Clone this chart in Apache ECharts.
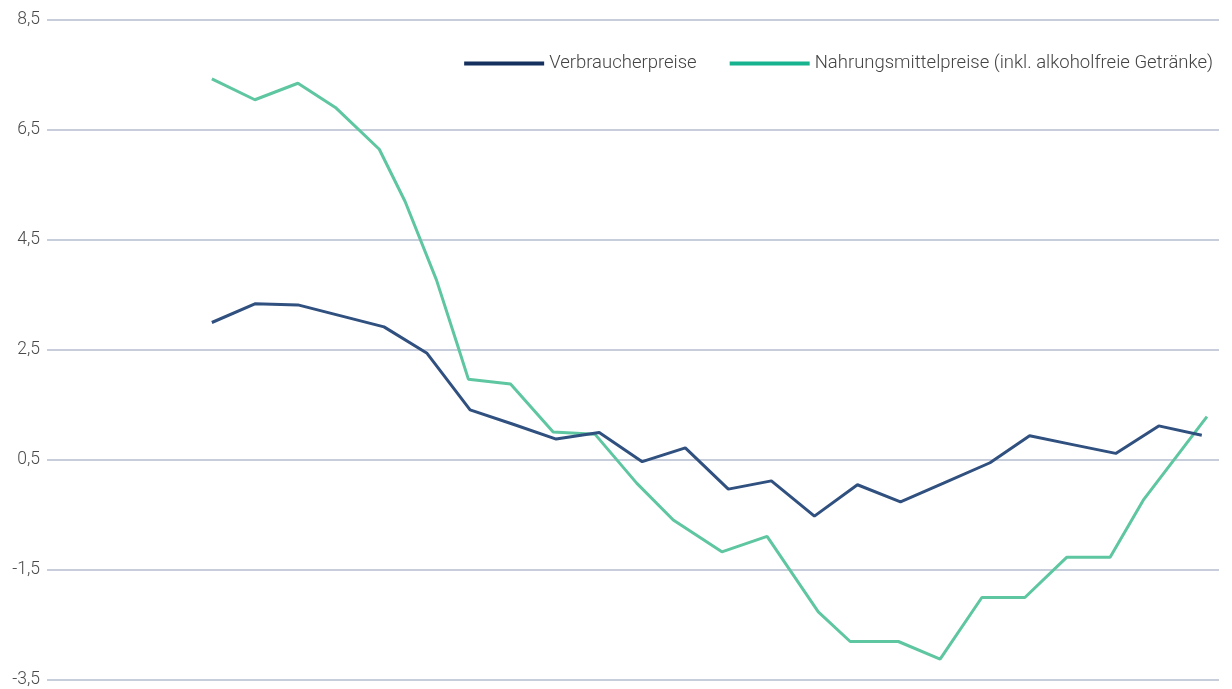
<!DOCTYPE html>
<html>
<head>
<meta charset="utf-8">
<script src="https://cdn.jsdelivr.net/npm/echarts@6/dist/echarts.min.js"></script>
<style>
html,body{margin:0;padding:0;background:#fff;}
#chart{width:1232px;height:689px;}
</style>
</head>
<body>
<div id="chart"></div>
<script>
// Month index positions (x) and values (%)
const vpMonths = [0,1,2,3,4,5,6,7,8,9,10,11,12,13,14,15,16,17,18.08,19,20,21,22,23];
const vpValues = [3.0,3.34,3.32,3.12,2.92,2.44,1.41,1.15,0.88,1.0,0.47,0.72,-0.03,0.12,-0.52,0.05,-0.26,0.08,0.45,0.94,0.78,0.62,1.12,0.95];

const nmMonths = [0,1,2,2.87,3.89,4.49,5.22,5.72,5.96,6.94,7.93,8.9,9.87,10.72,11.85,12.9,14.09,14.83,15.95,16.92,17.89,18.89,19.86,20.87,21.64,23.12];
const nmValues = [7.43,7.05,7.35,6.91,6.15,5.2,3.77,2.56,1.97,1.88,1.01,0.97,0.08,-0.59,-1.17,-0.89,-2.26,-2.8,-2.8,-3.12,-2.0,-2.0,-1.27,-1.27,-0.23,1.29];

const yTicks = [-3.5,-1.5,0.5,2.5,4.5,6.5,8.5];
const seriesNames = ['Verbraucherpreise','Nahrungsmittelpreise (inkl. alkoholfreie Getränke)'];

const chart = echarts.init(document.getElementById('chart'), null, {renderer:'canvas'});
const toPairs = (xs, ys) => xs.map((x,i)=>[x, ys[i]]);

chart.setOption({
  animation:false,
  backgroundColor:'#fff',
  grid:{left:47, right:13, top:20, bottom:9, containLabel:false},
  legend:{
    right:14, top:49,
    itemWidth:80, itemHeight:4, itemGap:33,
    icon:'rect',
    textStyle:{fontFamily:'Roboto', fontSize:18.5, color:'#444', fontWeight:300},
    data:[
      {name:seriesNames[0], itemStyle:{color:'#15305e'}},
      {name:seriesNames[1], itemStyle:{color:'#17b38e'}}
    ]
  },
  xAxis:{
    type:'value', min:-3.83, max:23.4,
    show:true,
    axisLine:{show:false}, axisTick:{show:false}, axisLabel:{show:false}, splitLine:{show:false}
  },
  yAxis:{
    type:'value', min:yTicks[0], max:yTicks[yTicks.length-1], interval:2,
    axisLine:{show:false}, axisTick:{show:false},
    axisLabel:{
      margin:7, fontFamily:'Roboto', fontSize:17.5, color:'#4a4a4a', fontWeight:300,
      formatter:v=>String(v).replace('.',',')
    },
    splitLine:{lineStyle:{color:'#b6bccf', width:1.5}}
  },
  series:[
    {
      name:seriesNames[0], type:'line', data:toPairs(vpMonths, vpValues),
      showSymbol:false, symbol:'none',
      lineStyle:{color:'#30507f', width:3}, itemStyle:{color:'#30507f'}, z:3
    },
    {
      name:seriesNames[1], type:'line', data:toPairs(nmMonths, nmValues),
      showSymbol:false, symbol:'none',
      lineStyle:{color:'#5ec6a0', width:3}, itemStyle:{color:'#5ec6a0'}, z:2
    }
  ]
});
</script>
</body>
</html>
